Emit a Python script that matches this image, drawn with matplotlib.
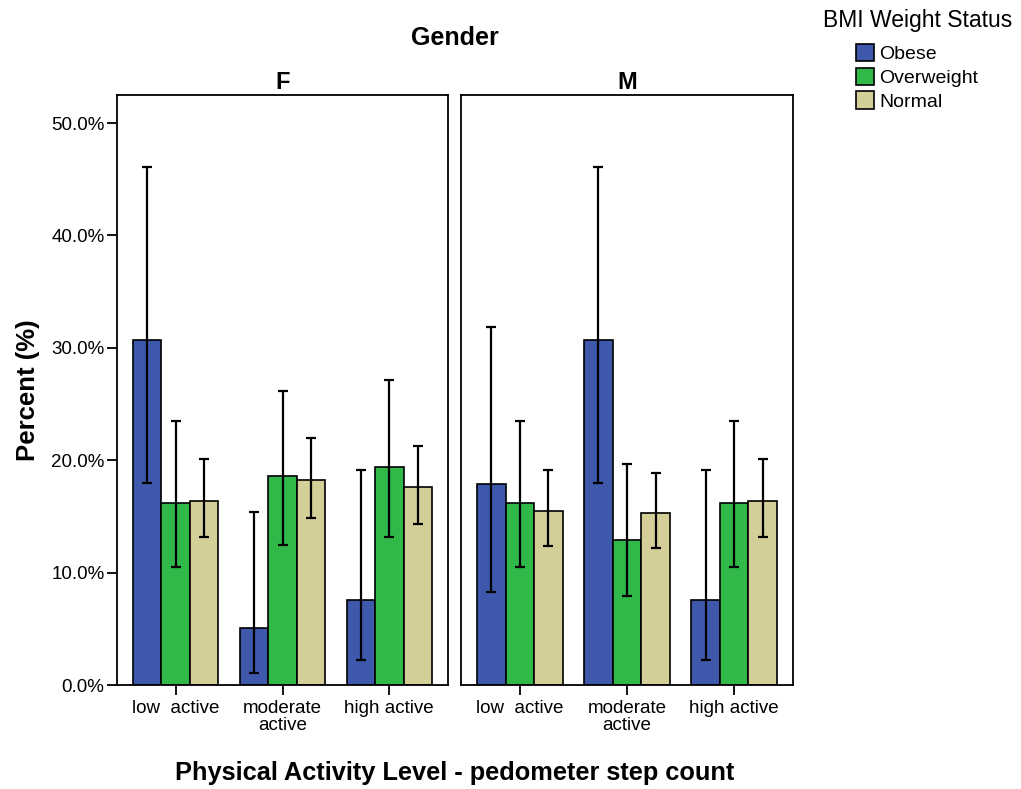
import numpy as np
import matplotlib.pyplot as plt
from matplotlib.patches import Patch

plt.rcParams['font.family'] = ['Liberation Sans', 'DejaVu Sans']

levels = ["low  active", "moderate\nactive", "high active"]
groups = ["Obese", "Overweight", "Normal"]
colors = ["#3e58ac", "#30b848", "#d4ce99"]

# percent values per gender, rows = BMI group, cols = activity level
f_pct = [[30.7, 5.1, 7.6],
         [16.2, 18.6, 19.4],
         [16.4, 18.2, 17.6]]
f_lo = [[18.0, 1.1, 2.2],
        [10.5, 12.5, 13.2],
        [13.2, 14.9, 14.3]]
f_hi = [[46.1, 15.4, 19.1],
        [23.5, 26.2, 27.1],
        [20.1, 22.0, 21.3]]

m_pct = [[17.9, 30.7, 7.6],
         [16.2, 12.9, 16.2],
         [15.5, 15.3, 16.4]]
m_lo = [[8.3, 18.0, 2.2],
        [10.5, 7.9, 10.5],
        [12.4, 12.2, 13.2]]
m_hi = [[31.9, 46.1, 19.1],
        [23.5, 19.7, 23.5],
        [19.1, 18.9, 20.1]]

fig = plt.figure(figsize=(10.21, 7.89), dpi=100)
ax_f = fig.add_axes([0.1146, 0.1318, 0.3242, 0.7478])
ax_m = fig.add_axes([0.4515, 0.1318, 0.3252, 0.7478])

w = 0.8 / 3
x = np.arange(len(levels))


def draw_panel(ax, pct, lo, hi, name, show_y):
    for i in range(3):
        vals = np.array(pct[i])
        err = [vals - np.array(lo[i]), np.array(hi[i]) - vals]
        ax.bar(x + (i - 1) * w, vals, w, color=colors[i], edgecolor="black",
               linewidth=1.2, zorder=2)
        ax.errorbar(x + (i - 1) * w, vals, yerr=err, fmt="none", ecolor="black",
                    elinewidth=1.6, capsize=3.5, capthick=1.6, zorder=3)
    ax.set_xlim(-0.55, 2.55)
    ax.set_ylim(0, 52.5)
    ax.set_xticks(x)
    ax.set_xticklabels(levels, fontsize=13.5, linespacing=0.95)
    ax.tick_params(axis="x", direction="out", length=7, width=1.3, pad=4)
    for s in ax.spines.values():
        s.set_linewidth(1.3)
    if show_y:
        ax.set_yticks(np.arange(0, 51, 10))
        ax.set_yticklabels(["%.1f%%" % v for v in np.arange(0, 51, 10)], fontsize=13.5)
        ax.tick_params(axis="y", direction="out", length=7, width=1.3, pad=2)
    else:
        ax.set_yticks([])
    ax.set_title(name, fontsize=17, fontweight="bold", pad=4)


draw_panel(ax_f, f_pct, f_lo, f_hi, "F", True)
draw_panel(ax_m, m_pct, m_lo, m_hi, "M", False)

ax_f.set_ylabel("Percent (%)", fontsize=18.5, fontweight="bold", labelpad=8)
fig.text(455 / 1021, 1 - 38 / 789, "Gender", ha="center", va="center",
         fontsize=18, fontweight="bold")
fig.text(455 / 1021, 1 - 773 / 789, "Physical Activity Level - pedometer step count",
         ha="center", va="center", fontsize=18.3, fontweight="bold")

# legend title drawn separately so it sits higher above the entries
fig.text(918 / 1021, 1 - 20 / 789, "BMI Weight Status", ha="center", va="center",
         fontsize=16.5)
handles = [Patch(facecolor=c, edgecolor="black", linewidth=1.2) for c in colors]
fig.legend(handles, groups, loc="upper left", bbox_to_anchor=(856 / 1021, 1 - 44 / 789),
           fontsize=14, frameon=False, borderpad=0, borderaxespad=0,
           handlelength=0.95, handleheight=1.0, handletextpad=0.25, labelspacing=0.22)

fig.savefig("out.png", dpi=100)
